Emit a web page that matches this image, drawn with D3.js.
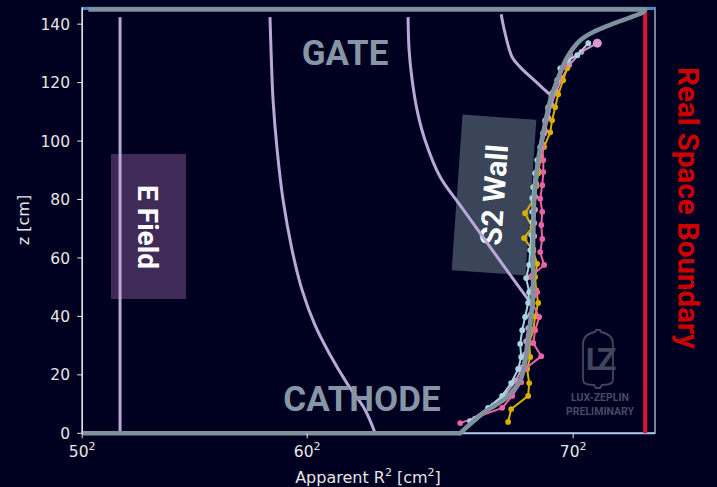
<!DOCTYPE html>
<html><head><meta charset="utf-8">
<script src="https://cdn.jsdelivr.net/npm/d3@7"></script>
<style>html,body{margin:0;padding:0;background:#000020;} svg{display:block}</style>
</head><body>
<svg id="c" width="717" height="487"></svg>
<script>
// ---- data ----
const xTicks = [2500, 3600, 4900];
const xTickBases = ["50", "60", "70"];
const yTicks = [0, 20, 40, 60, 80, 100, 120, 140];
const realBoundaryR2 = 5252;
const topZ = 145;

const wallCurve = [[4347,0],[4460,6.9],[4577,12.4],[4641,18.2],[4670,26.1],[4680,31.9],[4700,43.2],[4704,49.0],[4704,62.7],[4709,79.8],[4729,93.5],[4753,102.7],[4788,114.0],[4822,120.8],[4871,128.7],[4935,134.5],[4998,137.3],[5115,140.7],[5242,144.1],[5252,145]];

const fieldLine1 = [[2685,0],[2685,142.4]];
const fieldLine2 = [[3418,142.4],[3423,131.1],[3433,114.0],[3453,96.9],[3482,79.8],[3526,62.7],[3575,49.0],[3638,37.0],[3712,26.8],[3800,16.5],[3883,8.0],[3932,0]];
const fieldLine3 = [[4093,142.4],[4098,131.1],[4113,120.8],[4137,110.6],[4176,100.3],[4250,87.7],[4347,78.1],[4470,66.1],[4592,54.2],[4700,43.9]];
const fieldLine4 = [[4548,143.4],[4567,136.9],[4602,128.7],[4641,125.3],[4724,119.9],[4788,115.8]];

const pinkSeries = [[4348,3.5],[4553,8.7],[4602,12.8],[4646,17.5],[4665,22.0],[4744,26.4],[4705,30.9],[4714,35.3],[4734,39.8],[4700,44.6],[4724,48.3],[4690,53.5],[4758,57.6],[4739,62.0],[4749,66.5],[4744,71.3],[4749,75.8],[4739,80.3],[4749,84.9],[4754,89.4],[4754,93.5],[4749,98.0],[4758,102.5],[4764,106.5],[4778,111.0],[4793,115.0],[4827,120.8],[4856,125.5],[4886,129.4]];
const yellowSeries = [[4582,3.9],[4597,8.3],[4680,12.8],[4685,17.2],[4675,22.0],[4690,26.1],[4685,30.9],[4705,35.5],[4714,40.0],[4729,44.6],[4719,49.0],[4714,53.5],[4724,58.0],[4705,62.3],[4660,66.8],[4700,70.5],[4665,75.3],[4705,79.8],[4719,84.5],[4729,89.0],[4739,93.5],[4758,98.0],[4788,103.0],[4797,107.1],[4812,111.6],[4827,116.0],[4851,120.8],[4871,124.9]];
const blueSeries = [[4396,4.2],[4484,8.7],[4553,12.8],[4597,17.2],[4631,22.0],[4646,26.1],[4641,30.6],[4651,35.3],[4665,39.8],[4680,44.6],[4685,48.3],[4670,53.1],[4685,57.6],[4690,62.7],[4695,67.9],[4700,72.3],[4700,75.8],[4700,80.5],[4705,84.2],[4714,89.0],[4724,93.5],[4739,97.9],[4753,102.7],[4763,107.1],[4778,111.6],[4797,116.4],[4822,120.8],[4837,124.9],[4876,127.7],[4920,129.4],[4974,133.5]];
const orchidSeries = [[4420,5.0],[4510,9.5],[4570,13.5],[4620,18.0],[4650,22.5],[4665,27.0],[4670,31.5],[4680,36.0],[4690,40.5],[4695,45.0],[4700,49.5],[4700,54.0],[4705,58.5],[4705,63.0],[4710,67.5],[4710,72.0],[4714,76.5],[4714,81.0],[4719,85.5],[4729,90.0],[4739,94.5],[4749,99.0],[4763,103.5],[4778,108.0],[4793,112.5],[4817,117.0],[4846,121.5],[4880,126.0],[4940,130.5],[5018,133.5]];

// ---- drawing ----
const svg = d3.select("#c");
const W = 717, H = 487;
const L = 82.2, R = 655, T = 7.5, B = 433.3;
svg.append("rect").attr("width", W).attr("height", H).attr("fill", "#000020");

const x = d3.scaleLinear().domain([2500, 5300]).range([L, R]);
const y = d3.scaleLinear().domain([0, 145.7]).range([B, T]);

const lineLin = d3.line().x(d => x(d[0])).y(d => y(d[1]));
const lineSmooth = d3.line().x(d => x(d[0])).y(d => y(d[1])).curve(d3.curveCatmullRom.alpha(0.5));

// frame
svg.append("rect").attr("x", L).attr("y", T).attr("width", R - L).attr("height", B - T)
  .attr("fill", "none").attr("stroke", "#c8d8ee").attr("stroke-width", 1.2);
svg.append("line").attr("x1", L).attr("x2", R).attr("y1", T + 1).attr("y2", T + 1)
  .attr("stroke", "#4f86c6").attr("stroke-width", 3);
svg.append("line").attr("x1", L).attr("x2", R).attr("y1", B).attr("y2", B)
  .attr("stroke", "#a8c6ea").attr("stroke-width", 2);

// E Field box
svg.append("rect").attr("x", 111).attr("y", 154).attr("width", 75).attr("height", 145)
  .attr("fill", "#3f2a58");
// S2 wall box
const s2 = svg.append("g").attr("transform", "translate(494,195) rotate(4)");
s2.append("rect").attr("x", -37).attr("y", -78).attr("width", 74).attr("height", 156).attr("fill", "#3a4559");

// field lines
[fieldLine1, fieldLine2, fieldLine3, fieldLine4].forEach(fl => {
  svg.append("path").attr("d", lineSmooth(fl)).attr("fill", "none")
    .attr("stroke", "#b9a8d8").attr("stroke-width", 3).attr("stroke-linecap", "butt");
});

// annotation texts
svg.append("text").attr("transform", "translate(148,227) rotate(90)")
  .attr("text-anchor", "middle").attr("dy", "0.35em")
  .attr("font-family", "Roboto").attr("font-weight", "bold").attr("font-size", 28)
  .attr("fill", "#ffffff").text("E Field");
s2.append("text").attr("transform", "rotate(-90)")
  .attr("text-anchor", "middle").attr("dy", "0.35em")
  .attr("font-family", "Roboto").attr("font-weight", "bold").attr("font-size", 30)
  .attr("fill", "#ffffff").text("S2 Wall");
svg.append("text").attr("x", 345).attr("y", 65).attr("text-anchor", "middle")
  .attr("font-family", "Roboto").attr("font-weight", "bold").attr("font-size", 35)
  .attr("fill", "#8796a6").text("GATE");
svg.append("text").attr("x", 362).attr("y", 411).attr("text-anchor", "middle")
  .attr("font-family", "Roboto").attr("font-weight", "bold").attr("font-size", 35)
  .attr("fill", "#8796a6").text("CATHODE");
svg.append("text").attr("transform", "translate(688,208) rotate(90)")
  .attr("text-anchor", "middle").attr("dy", "0.35em")
  .attr("font-family", "Roboto").attr("font-weight", "bold").attr("font-size", 29.5)
  .attr("fill", "#cc0000").text("Real Space Boundary");

// LZ logo
const logo = svg.append("g").attr("transform", "translate(598,358)");
logo.append("path").attr("d", "M-3,-26 L-2,-28 L2,-28 L3,-26 C8,-25 15,-22 15,-14 L15,22 C15,26 10,27 4,27 L2,30 L-2,30 L-4,27 C-10,27 -15,26 -15,22 L-15,-14 C-15,-22 -8,-25 -3,-26 Z")
  .attr("fill", "none").attr("stroke", "#42465c").attr("stroke-width", 1.8);
logo.append("text").attr("x", 0).attr("y", 12).attr("text-anchor", "middle")
  .attr("font-family", "Roboto").attr("font-weight", "bold").attr("font-size", 32)
  .attr("letter-spacing", -6).attr("fill", "#42465c").text("LZ");
logo.append("text").attr("x", 2).attr("y", 43).attr("text-anchor", "middle")
  .attr("font-family", "Roboto").attr("font-weight", "bold").attr("font-size", 10.5)
  .attr("fill", "#464a60").text("LUX-ZEPLIN");
logo.append("text").attr("x", 2).attr("y", 57).attr("text-anchor", "middle")
  .attr("font-family", "Roboto").attr("font-weight", "bold").attr("font-size", 10.5)
  .attr("fill", "#464a60").text("PRELIMINARY");

// data series
const seriesList = [
  {data: orchidSeries, color: "#d094c8"},
  {data: yellowSeries, color: "#d8b000"},
  {data: pinkSeries, color: "#ec64a4"},
  {data: blueSeries, color: "#a6d6e0"}
];
seriesList.forEach(s => {
  svg.append("path").attr("d", lineLin(s.data)).attr("fill", "none")
    .attr("stroke", s.color).attr("stroke-width", 2);
  svg.selectAll(null).data(s.data).enter().append("circle")
    .attr("cx", d => x(d[0])).attr("cy", d => y(d[1])).attr("r", 2.9).attr("fill", s.color);
});
const lastO = orchidSeries[orchidSeries.length - 1];
svg.append("circle").attr("cx", x(lastO[0])).attr("cy", y(lastO[1])).attr("r", 4.5).attr("fill", "#d898d0");

// real space boundary line
svg.append("line").attr("x1", x(realBoundaryR2)).attr("x2", x(realBoundaryR2))
  .attr("y1", y(0)).attr("y2", y(topZ)).attr("stroke", "#dc143c").attr("stroke-width", 4);

// thick gray wall boundary
svg.append("path").attr("d", lineSmooth(wallCurve)).attr("fill", "none")
  .attr("stroke", "#7d929c").attr("stroke-width", 4.5).attr("stroke-linecap", "round");
svg.append("path").attr("d", lineLin([[2500, 0], wallCurve[0]])).attr("fill", "none")
  .attr("stroke", "#7d929c").attr("stroke-width", 4.5);
svg.append("path").attr("d", lineLin([[2530, topZ], [realBoundaryR2, topZ]])).attr("fill", "none")
  .attr("stroke", "#7d929c").attr("stroke-width", 4.5);

// axes
const tc = "#e6e6e6";
svg.append("line").attr("x1", L).attr("x2", L).attr("y1", T).attr("y2", B).attr("stroke", "#f0f0f0").attr("stroke-width", 1.2);
yTicks.forEach(t => {
  svg.append("line").attr("x1", L - 5).attr("x2", L).attr("y1", y(t)).attr("y2", y(t)).attr("stroke", tc).attr("stroke-width", 1);
  svg.append("text").attr("x", 70).attr("y", y(t)).attr("dy", "0.36em").attr("text-anchor", "end")
    .attr("font-family", "DejaVu Sans").attr("font-size", 15.5).attr("fill", tc).text(t);
});
xTicks.forEach((t, i) => {
  svg.append("line").attr("x1", x(t)).attr("x2", x(t)).attr("y1", B).attr("y2", B + 5).attr("stroke", tc).attr("stroke-width", 1);
  const tx = svg.append("text").attr("x", x(t)).attr("y", B + 24).attr("text-anchor", "middle")
    .attr("font-family", "DejaVu Sans").attr("font-size", 15.5).attr("fill", tc);
  tx.append("tspan").text(xTickBases[i]);
  tx.append("tspan").attr("dy", -7).attr("font-size", 11).text("2");
});
const xl = svg.append("text").attr("x", 368).attr("y", 483).attr("text-anchor", "middle")
  .attr("font-family", "DejaVu Sans").attr("font-size", 16).attr("fill", tc);
xl.append("tspan").text("Apparent R");
xl.append("tspan").attr("dy", -7).attr("font-size", 11).text("2");
xl.append("tspan").attr("dy", 7).text(" [cm");
xl.append("tspan").attr("dy", -7).attr("font-size", 11).text("2");
xl.append("tspan").attr("dy", 7).text("]");
svg.append("text").attr("transform", "translate(29,220) rotate(-90)").attr("text-anchor", "middle")
  .attr("font-family", "DejaVu Sans").attr("font-size", 16).attr("fill", tc).text("z [cm]");
</script>
</body></html>
